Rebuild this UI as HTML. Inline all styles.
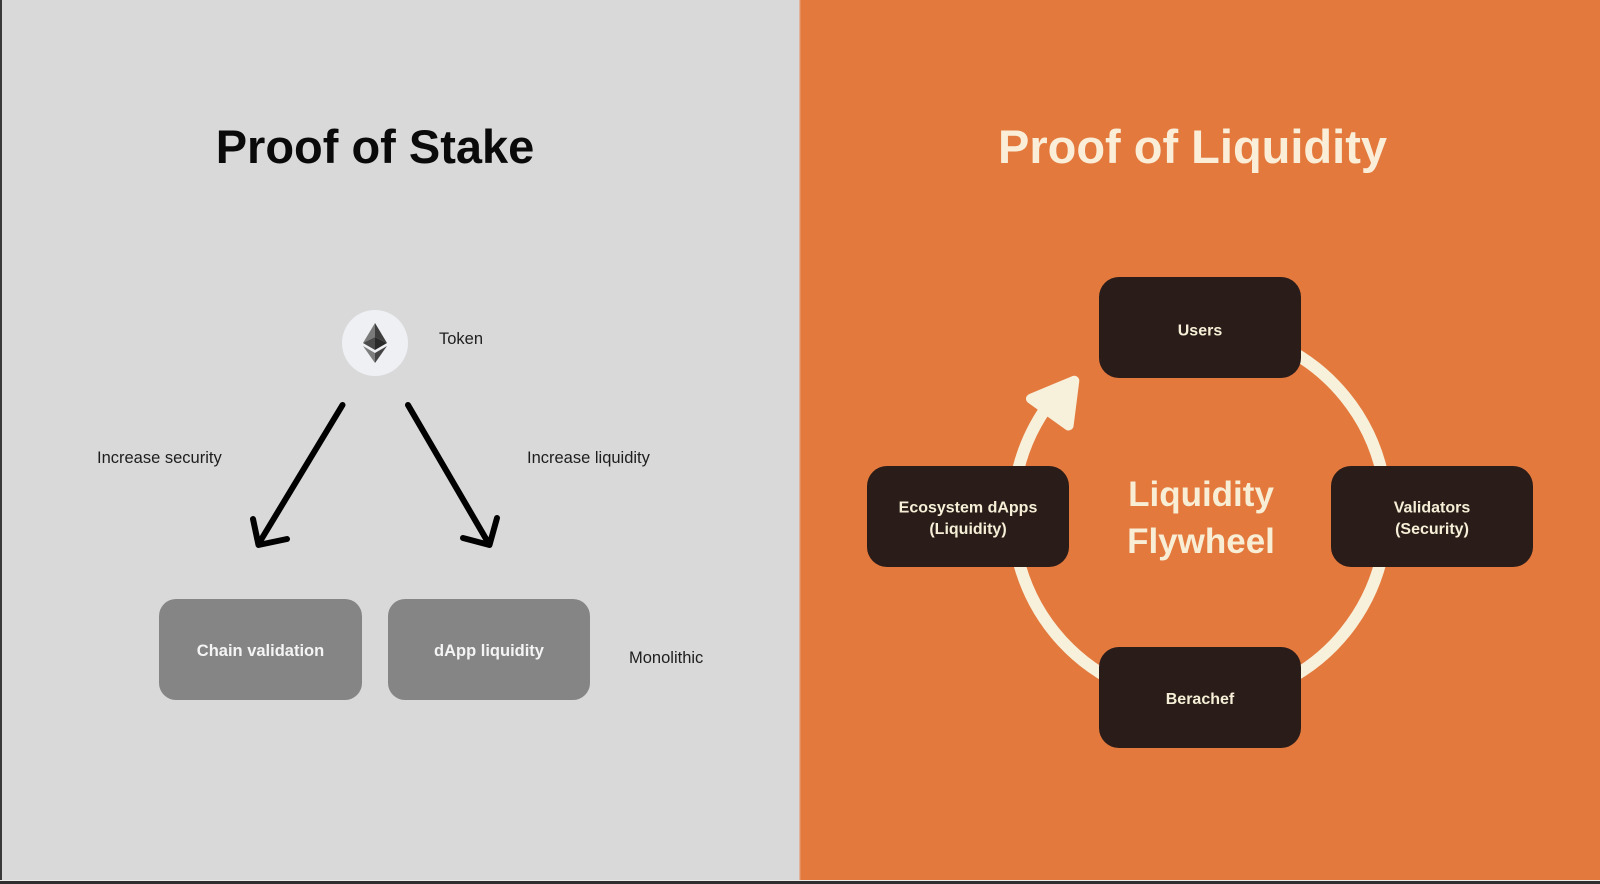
<!DOCTYPE html>
<html>
<head>
<meta charset="utf-8">
<style>
  html, body { margin:0; padding:0; }
  body { width:1600px; height:884px; overflow:hidden; background:#d9d9d9; }
  svg { display:block; }
  text { font-family: "Liberation Sans", Arial, sans-serif; }
</style>
</head>
<body>
<svg width="1600" height="884" viewBox="0 0 1600 884" xmlns="http://www.w3.org/2000/svg">
  <!-- backgrounds -->
  <rect x="0" y="0" width="800" height="884" fill="#d9d9d9"/>
  <rect x="800" y="0" width="800" height="884" fill="#e3793d"/>
  <rect x="799" y="0" width="2" height="884" fill="#e69a73" opacity="0.6"/>
  <rect x="0" y="0" width="2" height="884" fill="#3a3a3a"/>
  <rect x="0" y="880" width="1600" height="1" fill="#ececec"/>
  <rect x="0" y="881" width="1600" height="3" fill="#2e2e2e"/>

  <!-- LEFT: Proof of Stake -->
  <text x="375" y="163" text-anchor="middle" font-size="47" font-weight="bold" fill="#0a0a0a">Proof of Stake</text>

  <!-- eth token -->
  <circle cx="375" cy="343" r="33" fill="#eef0f4"/>
  <polygon points="375,323 363,343 375,337" fill="#7a7a7a"/>
  <polygon points="375,323 387,343 375,337" fill="#3e3e3e"/>
  <polygon points="363,343 375,350 375,337" fill="#4a4a4a"/>
  <polygon points="387,343 375,350 375,337" fill="#2a2a2a"/>
  <polygon points="363,346 375,363 375,353" fill="#7d7d7d"/>
  <polygon points="387,346 375,363 375,353" fill="#454545"/>
  <text x="439" y="344" font-size="16.5" fill="#1e1e1e">Token</text>

  <!-- arrows -->
  <g stroke="#000" stroke-width="6" stroke-linecap="round" stroke-linejoin="round" fill="none">
    <line x1="342.5" y1="405" x2="258.5" y2="544"/>
    <polyline points="253,519 258.5,545 287,539"/>
    <line x1="408" y1="405" x2="489" y2="544"/>
    <polyline points="497,518 489.5,545 463,538"/>
  </g>
  <text x="97" y="463" font-size="16.5" fill="#1e1e1e">Increase security</text>
  <text x="527" y="463" font-size="16.5" fill="#1e1e1e">Increase liquidity</text>

  <!-- gray boxes -->
  <rect x="159" y="599" width="203" height="101" rx="17" fill="#858585"/>
  <rect x="388" y="599" width="202" height="101" rx="17" fill="#858585"/>
  <text x="260.5" y="656" text-anchor="middle" font-size="16.5" font-weight="bold" fill="#f4f4f4">Chain validation</text>
  <text x="489" y="656" text-anchor="middle" font-size="16.5" font-weight="bold" fill="#f4f4f4">dApp liquidity</text>
  <text x="629" y="663" font-size="16.5" fill="#1e1e1e">Monolithic</text>

  <!-- RIGHT: Proof of Liquidity -->
  <text x="1192.5" y="163" text-anchor="middle" font-size="47" font-weight="bold" fill="#fbeed8">Proof of Liquidity</text>

  <!-- flywheel ring -->
  <path d="M 1200 327.5 A 187 187 0 1 1 1046 408" fill="none" stroke="#f7f0da" stroke-width="12"/>
  <polygon points="1074.3,380.7 1031,398.7 1068.6,425.5" fill="#f7f0da" stroke="#f7f0da" stroke-width="10" stroke-linejoin="round"/>

  <!-- center label -->
  <text x="1201" y="506" text-anchor="middle" font-size="35" font-weight="bold" fill="#f8edd5">Liquidity</text>
  <text x="1201" y="553" text-anchor="middle" font-size="35" font-weight="bold" fill="#f8edd5">Flywheel</text>

  <!-- dark boxes -->
  <g fill="#291c19">
    <rect x="1099" y="277" width="202" height="101" rx="20"/>
    <rect x="867" y="466" width="202" height="101" rx="20"/>
    <rect x="1331" y="466" width="202" height="101" rx="20"/>
    <rect x="1099" y="647" width="202" height="101" rx="20"/>
  </g>
  <g font-size="16" font-weight="bold" fill="#f6eed6" text-anchor="middle">
    <text x="1200" y="335.5">Users</text>
    <text x="968" y="512.5">Ecosystem dApps</text>
    <text x="968" y="534">(Liquidity)</text>
    <text x="1432" y="512.5">Validators</text>
    <text x="1432" y="534">(Security)</text>
    <text x="1200" y="704">Berachef</text>
  </g>
</svg>
</body>
</html>
